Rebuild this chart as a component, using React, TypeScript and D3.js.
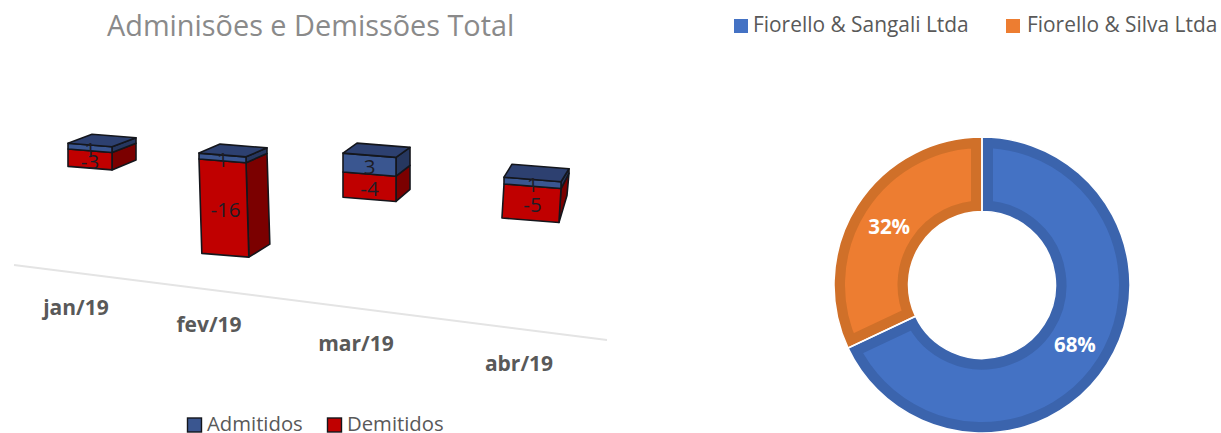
import React, { useEffect, useRef } from 'react'
import * as d3 from 'd3'

const WIDTH = 1221
const HEIGHT = 433

const months = ['jan/19', 'fev/19', 'mar/19', 'abr/19']
const admitidos = [1, 1, 3, 1]
const demitidos = [-3, -16, -4, -5]

const empresas = ['Fiorello & Sangali Ltda', 'Fiorello & Silva Ltda']
const shares = [68, 32]

const FONT = '"Open Sans", sans-serif'
const idx = [0, 1, 2, 3]

export default function App(): JSX.Element {
  const svgRef = useRef<SVGSVGElement | null>(null)

  function drawBars(svg: any) {
    // the chart is tilted in perspective, so every category has its own scale
    const xLeft = d3.scaleLinear().domain(idx).range([68, 199, 343, 504])
    const zeroY = d3.scaleLinear().domain(idx).range([149, 159, 172, 184])
    const barW = d3.scaleLinear().domain(idx).range([44, 47, 53, 57])
    const unit = d3.scaleLinear().domain(idx).range([5.8, 5.9, 6.3, 6.8])
    const lean = d3.scaleLinear().domain(idx).range([0, 0.03, 0, -0.06])
    const depthX = d3.scaleLinear().domain(idx).range([24, 21, 14, 8])
    const depthTop = d3.scaleLinear().domain(idx).range([-9, -9, -10, -13])
    const depthBottom = d3.scaleLinear().domain(idx).range([-10, -13, -12, -27])
    const path = d3.line().curve(d3.curveLinearClosed)

    const pt = (i: number, v: number, side: number, back: boolean): [number, number] => {
      const h = unit(i) * v
      const w = barW(i)
      const span = admitidos[i] - demitidos[i]
      const t = (admitidos[i] - v) / span
      const x0 = xLeft(i) + side * w + (v < 0 ? lean(i) * -h : 0)
      const y0 = zeroY(i) - h + side * w * 0.08
      if (!back) return [x0, y0]
      return [x0 + depthX(i), y0 + d3.interpolateNumber(depthTop(i), depthBottom(i))(t)]
    }

    const faces = [
      { key: 'side-red', fill: '#7b0000', p: (i: number) => [pt(i, 0, 1, false), pt(i, demitidos[i], 1, false), pt(i, demitidos[i], 1, true), pt(i, 0, 1, true)] },
      { key: 'side-blue', fill: '#26375f', p: (i: number) => [pt(i, admitidos[i], 1, false), pt(i, 0, 1, false), pt(i, 0, 1, true), pt(i, admitidos[i], 1, true)] },
      { key: 'front-red', fill: '#c00000', p: (i: number) => [pt(i, 0, 0, false), pt(i, 0, 1, false), pt(i, demitidos[i], 1, false), pt(i, demitidos[i], 0, false)] },
      { key: 'front-blue', fill: '#3a5690', p: (i: number) => [pt(i, admitidos[i], 0, false), pt(i, admitidos[i], 1, false), pt(i, 0, 1, false), pt(i, 0, 0, false)] },
      { key: 'top', fill: '#2d4070', p: (i: number) => [pt(i, admitidos[i], 0, false), pt(i, admitidos[i], 1, false), pt(i, admitidos[i], 1, true), pt(i, admitidos[i], 0, true)] }
    ]

    const bars = svg.append('g').attr('class', 'bars')
    idx.forEach((i) => {
      faces.forEach((f) => {
        bars
          .append('path')
          .attr('d', path(f.p(i) as [number, number][]))
          .attr('fill', f.fill)
          .attr('stroke', '#14161c')
          .attr('stroke-width', 1.6)
          .attr('stroke-linejoin', 'round')
      })
    })

    // value labels sit on the front faces
    const label = (i: number, v: number) =>
      bars
        .append('text')
        .attr('x', xLeft(i) + barW(i) / 2 + (v < -10 ? 3 : 0))
        .attr('y', zeroY(i) - (unit(i) * v) / 2 + 3)
        .attr('text-anchor', 'middle')
        .attr('dominant-baseline', 'central')
        .attr('font-family', FONT)
        .attr('font-size', 20.5)
        .attr('fill', '#1d1d26')
        .text(v)
    idx.forEach((i) => {
      label(i, admitidos[i])
      label(i, demitidos[i])
    })

    // category axis runs downhill
    const axisX = d3.scaleLinear().domain([0, 1]).range([14, 607])
    const axisY = d3.scaleLinear().domain([0, 1]).range([265, 340])
    svg
      .append('line')
      .attr('x1', axisX(0))
      .attr('y1', axisY(0))
      .attr('x2', axisX(1))
      .attr('y2', axisY(1))
      .attr('stroke', '#e4e4e4')
      .attr('stroke-width', 2)

    const labelX = d3.scaleLinear().domain(idx).range([76, 209, 356, 519])
    const labelY = d3.scaleLinear().domain(idx).range([315, 332, 351, 371])
    svg
      .append('g')
      .selectAll('text')
      .data(months)
      .join('text')
      .attr('x', (_d: string, i: number) => labelX(i))
      .attr('y', (_d: string, i: number) => labelY(i))
      .attr('text-anchor', 'middle')
      .attr('font-family', FONT)
      .attr('font-weight', 700)
      .attr('font-size', 21)
      .attr('fill', '#595959')
      .text((d: string) => d)

    svg
      .append('text')
      .attr('x', 107)
      .attr('y', 36)
      .attr('font-family', FONT)
      .attr('font-size', 28.85)
      .attr('fill', '#8a8a8a')
      .text('Adminisões e Demissões Total')

    const legend = [
      { name: 'Admitidos', fill: '#3a5690', x: 187 },
      { name: 'Demitidos', fill: '#c00000', x: 327 }
    ]
    const lg = svg.append('g')
    legend.forEach((d) => {
      lg.append('rect')
        .attr('x', d.x + 0.5)
        .attr('y', 418)
        .attr('width', 14)
        .attr('height', 14)
        .attr('fill', d.fill)
        .attr('stroke', '#14161c')
        .attr('stroke-width', 1.4)
      lg.append('text')
        .attr('x', d.x + 20)
        .attr('y', 431)
        .attr('font-family', FONT)
        .attr('font-size', 20.3)
        .attr('fill', '#595959')
        .text(d.name)
    })
  }

  function drawDonut(svg: any) {
    const cx = 982
    const cy = 285
    const colors = d3.scaleOrdinal<string>().domain(empresas).range(['#4472c4', '#ed7d31'])
    const borders = d3.scaleOrdinal<string>().domain(empresas).range(['#3b64ad', '#d07029'])
    const pie = d3.pie<number>().sort(null)
    const arc = d3.arc<any>().innerRadius(73.5).outerRadius(148)
    const slices = pie(shares)

    const g = svg.append('g').attr('transform', `translate(${cx},${cy})`)
    const defs = svg.append('defs')
    slices.forEach((s, i) => {
      defs.append('clipPath').attr('id', `slice-${i}`).append('path').attr('d', arc(s))
      // stroke is clipped to the slice so the band only shows on the inside
      g.append('path')
        .attr('d', arc(s))
        .attr('clip-path', `url(#slice-${i})`)
        .attr('fill', colors(empresas[i]))
        .attr('stroke', borders(empresas[i]))
        .attr('stroke-width', 22)
        .attr('stroke-linejoin', 'miter')
    })
    slices.forEach((s) => {
      g.append('path').attr('d', arc(s)).attr('fill', 'none').attr('stroke', '#fff').attr('stroke-width', 1.5)
    })

    const labelArc = d3.arc<any>().innerRadius(110).outerRadius(110)
    slices.forEach((s, i) => {
      const [x, y] = labelArc.centroid(s)
      g.append('text')
        .attr('x', x)
        .attr('y', y)
        .attr('text-anchor', 'middle')
        .attr('dominant-baseline', 'central')
        .attr('font-family', FONT)
        .attr('font-weight', 700)
        .attr('font-size', 20.5)
        .attr('fill', '#fff')
        .text(`${shares[i]}%`)
    })

    const legendX = d3.scaleOrdinal<number>().domain(empresas).range([734, 1006])
    const legendText = d3.scaleOrdinal<number>().domain(empresas).range([753, 1027])
    empresas.forEach((name) => {
      svg
        .append('rect')
        .attr('x', legendX(name))
        .attr('y', 19)
        .attr('width', 14)
        .attr('height', 14)
        .attr('fill', colors(name))
      svg
        .append('text')
        .attr('x', legendText(name))
        .attr('y', 32)
        .attr('font-family', FONT)
        .attr('font-size', 20.9)
        .attr('fill', '#595959')
        .text(name)
    })
  }

  useEffect(() => {
    const svg = d3.select(svgRef.current)
    svg.selectAll('*').remove()
    drawBars(svg)
    drawDonut(svg)
    // eslint-disable-next-line react-hooks/exhaustive-deps
  }, [])

  return (
    <svg
      ref={svgRef}
      width={WIDTH}
      height={HEIGHT}
      style={{ position: 'absolute', left: 0, top: 0, background: '#fff' }}
      xmlns="http://www.w3.org/2000/svg"
    />
  )
}
